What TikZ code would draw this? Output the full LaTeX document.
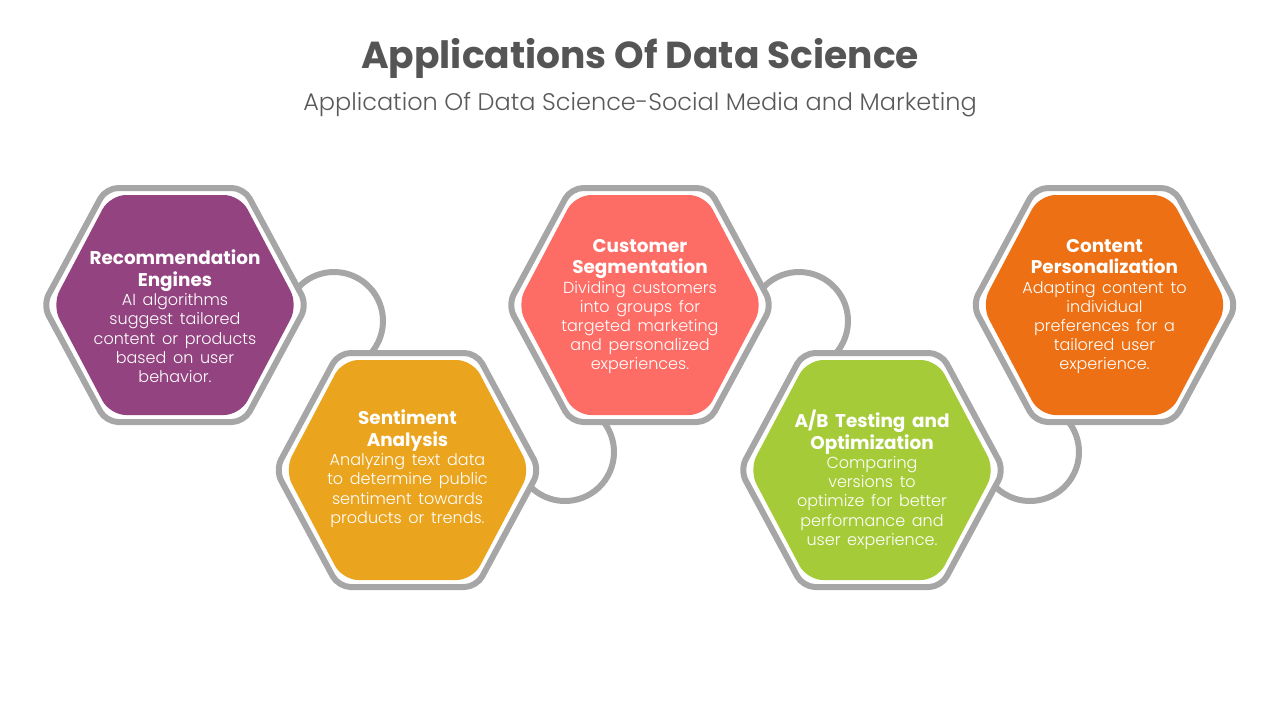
\documentclass[tikz,border=0pt]{standalone}
\usepackage{fontspec}
\setmainfont{Poppins}
\newfontfamily\lightfont{Poppins Light}
\usetikzlibrary{positioning}

\definecolor{ringgray}{HTML}{A6A6A6}
\definecolor{titlegray}{HTML}{555555}
\definecolor{subgray}{HTML}{595959}
\definecolor{recpurple}{HTML}{934480}
\definecolor{sentyellow}{HTML}{EAA41E}
\definecolor{custsalmon}{HTML}{FD6D66}
\definecolor{abgreen}{HTML}{A5CC38}
\definecolor{contorange}{HTML}{ED7014}

\newcommand{\hexhead}{\fontsize{9.2}{10.9}\selectfont\bfseries}
\newcommand{\hexbody}{\lightfont\fontsize{8}{9.6}\selectfont}

\tikzset{
  ring/.style={draw=ringgray, line width=3pt},
  hexring/.style={draw=ringgray, fill=white, line width=3pt, rounded corners=6pt},
  hexfill/.style={rounded corners=8pt},
  hextext/.style={text=white, text width=130pt, align=center, inner sep=0pt, anchor=north},
}

\begin{document}
\begin{tikzpicture}[x=0.5pt,y=-0.5pt]
    \def \ringR{49}; % rayon des anneaux
    \useasboundingbox (0,0) rectangle (1280,720);
    % titres
    \node[anchor=base, text=titlegray, font=\fontsize{18.8}{22}\selectfont\bfseries] (titre) at (640,68) {Applications Of Data Science};
    \node[anchor=base, text=subgray, font=\lightfont\fontsize{12}{14}\selectfont] (soustitre) at (640,110) {Application Of Data Science-Social Media and Marketing};
    % arcs entre les hexagones
    \foreach \cx/\cy/\sa/\ea in {334/321/-150/60, 565/452/-60/150, 799/321/-150/60, 1030/452/-60/150}
    \draw[ring] ([shift={(\sa:\ringR)}]\cx,\cy) arc[start angle=\sa, end angle=\ea, radius=\ringR];
    % hexagones : contour gris puis fond colore
    \foreach \x/\y/\c in {175/305/recpurple, 407.5/470/sentyellow, 640/305/custsalmon, 872/470/abgreen, 1104.5/305/contorange}{
    \draw[hexring] (\x-132,\y) -- (\x-69,\y-117) -- (\x+69,\y-117) -- (\x+132,\y) -- (\x+69,\y+117) -- (\x-69,\y+117) -- cycle;
    \fill[hexfill, \c] (\x-123,\y) -- (\x-65,\y-110) -- (\x+65,\y-110) -- (\x+123,\y) -- (\x+65,\y+110) -- (\x-65,\y+110) -- cycle;
    }
    % textes
    \node[hextext] (rec) at (175,249.6) {{\hexhead Recommendation\\Engines\par}{\hexbody AI algorithms\\suggest tailored\\content or products\\based on user\\behavior.\par}};
    \node[hextext] (sent) at (407.5,409.6) {{\hexhead Sentiment\\Analysis\par}{\hexbody Analyzing text data\\to determine public\\sentiment towards\\products or trends.\par}};
    \node[hextext] (cust) at (640,238.6) {{\hexhead Customer\\Segmentation\par}{\hexbody Dividing customers\\into groups for\\targeted marketing\\and personalized\\experiences.\par}};
    \node[hextext] (abtest) at (872,409.6) {{\hexhead A/B Testing and\\Optimization\par}{\hexbody Comparing\\versions to\\optimize for better\\performance and\\user experience.\par}};
    \node[hextext] (cont) at (1104.5,238.6) {{\hexhead Content\\Personalization\par}{\hexbody Adapting content to\\individual\\preferences for a\\tailored user\\experience.\par}};
\end{tikzpicture}
\end{document}
